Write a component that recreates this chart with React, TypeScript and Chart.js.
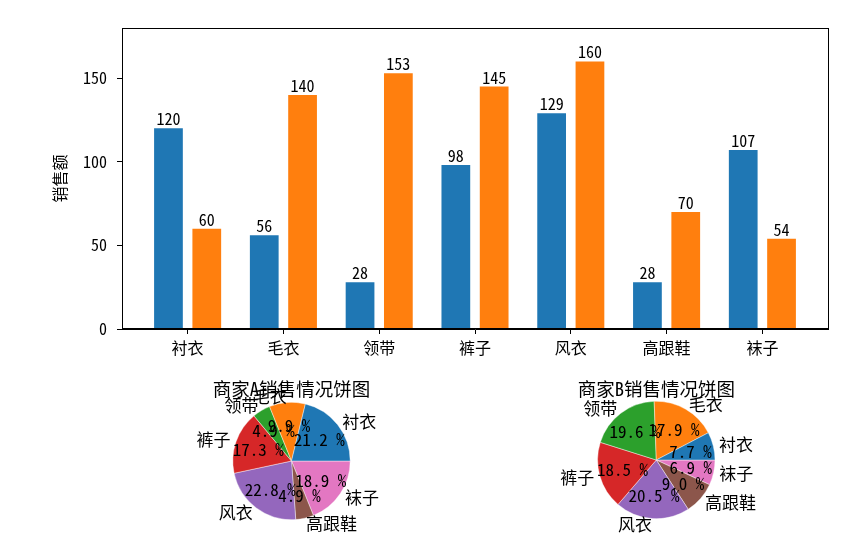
import React, { useEffect, useRef } from 'react';
import { Chart, registerables } from 'chart.js';

Chart.register(...registerables);

const categories = ['衬衣', '毛衣', '领带', '裤子', '风衣', '高跟鞋', '袜子'];
const sellerA = [120, 56, 28, 98, 129, 28, 107];
const sellerB = [60, 140, 153, 145, 160, 70, 54];
const yTicks = [0, 50, 100, 150];
const sliceColors = ['#1f77b4', '#ff7f0e', '#2ca02c', '#d62728', '#9467bd', '#8c564b', '#e377c2'];
const pieTitles = ['商家A销售情况饼图', '商家B销售情况饼图'];
const yTitle = '销售额';

const FONT = '"Noto Sans Mono CJK SC", "Noto Sans CJK SC", sans-serif';

function BarChart() {
  const ref = useRef<HTMLCanvasElement>(null);
  useEffect(() => {
    if (!ref.current) return;
    const frame = {
      id: 'frame',
      afterDatasetsDraw(chart: any) {
        const { ctx, chartArea: a } = chart;
        ctx.save();
        ctx.strokeStyle = '#000';
        ctx.lineWidth = 1;
        ctx.strokeRect(Math.round(a.left) + 0.5, Math.round(a.top) + 0.5, Math.round(a.right - a.left), Math.round(a.bottom - a.top) - 1);
        ctx.restore();
      },
    };
    const valueLabels = {
      id: 'valueLabels',
      afterDatasetsDraw(chart: any) {
        const ctx = chart.ctx;
        ctx.save();
        ctx.font = `16px ${FONT}`;
        ctx.fillStyle = '#000';
        ctx.textAlign = 'center';
        ctx.textBaseline = 'alphabetic';
        chart.data.datasets.forEach((ds: any, di: number) => {
          const meta = chart.getDatasetMeta(di);
          meta.data.forEach((bar: any, i: number) => {
            ctx.fillText(String(ds.data[i].y), bar.x, bar.y - 3);
          });
        });
        ctx.restore();
      },
    };
    const chart = new Chart(ref.current, {
      type: 'bar',
      data: {
        datasets: [
          { data: categories.map((_, i) => ({ x: i, y: sellerA[i] })), backgroundColor: sliceColors[0] },
          { data: categories.map((_, i) => ({ x: i, y: sellerB[i] })), backgroundColor: sliceColors[1] },
        ],
      },
      options: {
        animation: false,
        responsive: false,
        events: [],
        layout: { padding: { left: 46, top: 28, right: 37, bottom: 0 } },
        plugins: { legend: { display: false }, tooltip: { enabled: false } },
        datasets: { bar: { categoryPercentage: 0.8, barPercentage: 0.75 } },
        scales: {
          x: {
            type: 'linear',
            offset: false,
            min: -0.685,
            max: 6.685,
            afterBuildTicks: (s: any) => {
              s.ticks = categories.map((_, i) => ({ value: i }));
            },
            afterFit: (s: any) => {
              s.height = 41;
            },
            ticks: {
              autoSkip: false,
              maxRotation: 0,
              padding: 4,
              color: '#000',
              font: { family: FONT, size: 16 },
              callback: (v: any) => categories[v] ?? '',
            },
            grid: { offset: false, drawOnChartArea: false, drawTicks: true, tickLength: 5, color: '#000' },
            border: { display: true, color: '#000' },
          },
          y: {
            min: 0,
            max: 180,
            afterBuildTicks: (s: any) => {
              s.ticks = yTicks.map((v) => ({ value: v }));
            },
            afterFit: (s: any) => {
              s.width = 76;
            },
            title: { display: true, text: yTitle, color: '#000', font: { family: FONT, size: 16 }, padding: { top: 4, bottom: 4 } },
            ticks: { padding: 10, color: '#000', font: { family: FONT, size: 16 } },
            grid: { drawOnChartArea: false, drawTicks: true, tickLength: 5, color: '#000' },
            border: { display: true, color: '#000' },
          },
        },
      } as any,
      plugins: [valueLabels, frame],
    });
    return () => chart.destroy();
  }, []);
  return <canvas ref={ref} width={865} height={370} style={{ position: 'absolute', left: 0, top: 0, width: 865, height: 370 }} />;
}

function PieChart(props: { values: number[]; title: string; left: number; top: number; padding: any; titleY: number }) {
  const ref = useRef<HTMLCanvasElement>(null);
  const { values, title, left, top, padding, titleY } = props;
  useEffect(() => {
    if (!ref.current) return;
    const total = values.reduce((a, b) => a + b, 0);
    const n = values.length;
    const pieLabels = {
      id: 'pieLabels',
      afterDatasetsDraw(chart: any) {
        const ctx = chart.ctx;
        const meta = chart.getDatasetMeta(0);
        ctx.save();
        ctx.fillStyle = '#000';
        ctx.textBaseline = 'middle';
        let cx = 0;
        for (let k = 0; k < n; k++) {
          const arc = meta.data[n - 1 - k];
          const p = arc.getProps(['x', 'y', 'startAngle', 'endAngle', 'outerRadius'], true);
          cx = p.x;
          const mid = (p.startAngle + p.endAngle) / 2;
          const r = p.outerRadius;
          const lx = p.x + Math.cos(mid) * r * 1.1;
          const ly = p.y + Math.sin(mid) * r * 1.1;
          ctx.font = `17px ${FONT}`;
          ctx.textAlign = lx > p.x ? 'left' : 'right';
          ctx.fillText(categories[k], lx, ly);
          const px = p.x + Math.cos(mid) * r * 0.6;
          const py = p.y + Math.sin(mid) * r * 0.6;
          ctx.font = `17px ${FONT}`;
          ctx.textAlign = 'center';
          ctx.fillText(`${((values[k] / total) * 100).toFixed(1)} %`, px, py);
        }
        ctx.font = `18.5px ${FONT}`;
        ctx.textAlign = 'center';
        ctx.fillText(title, cx, titleY);
        ctx.restore();
      },
    };
    const chart = new Chart(ref.current, {
      type: 'pie',
      data: {
        labels: categories.slice().reverse(),
        datasets: [
          {
            data: values.slice().reverse(),
            backgroundColor: sliceColors.slice().reverse(),
            borderWidth: 0.6,
            borderColor: 'rgba(255,255,255,0.7)',
          },
        ],
      },
      options: {
        animation: false,
        responsive: false,
        events: [],
        rotation: 90,
        layout: { padding },
        plugins: { legend: { display: false }, tooltip: { enabled: false } },
      } as any,
      plugins: [pieLabels],
    });
    return () => chart.destroy();
  }, []);
  return <canvas ref={ref} width={300} height={187} style={{ position: 'absolute', left, top, width: 300, height: 187 }} />;
}

export default function App() {
  return (
    <div style={{ position: 'absolute', left: 0, top: 0, width: 865, height: 557, background: '#fff' }}>
      <BarChart />
      <PieChart values={sellerA} title={pieTitles[0]} left={140} top={370} titleY={19} padding={{ left: 92.5, right: 89.5, top: 32, bottom: 37 }} />
      <PieChart values={sellerB} title={pieTitles[1]} left={505} top={370} titleY={19} padding={{ left: 92.3, right: 89.7, top: 31, bottom: 38 }} />
    </div>
  );
}
